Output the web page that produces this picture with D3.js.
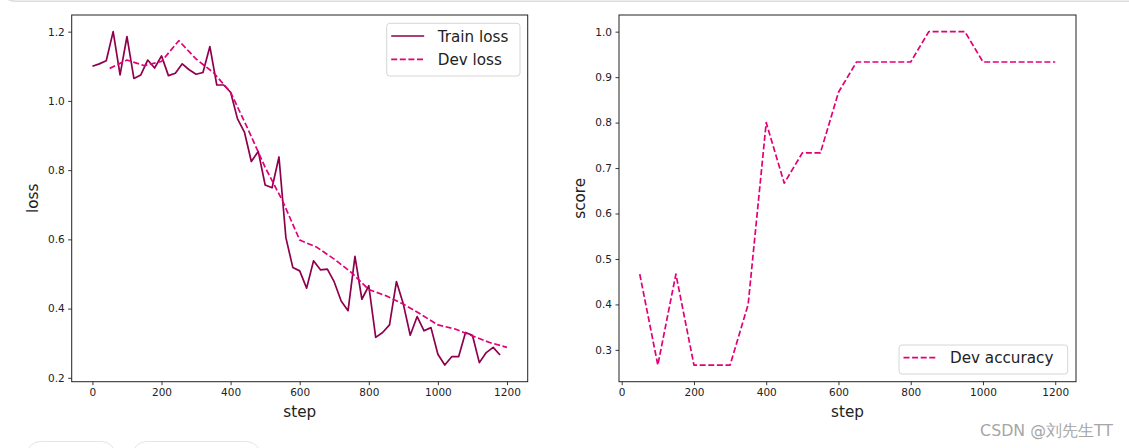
<!DOCTYPE html>
<html>
<head>
<meta charset="utf-8">
<script src="https://cdn.jsdelivr.net/npm/d3@7"></script>
<style>
  html, body { margin: 0; padding: 0; background: #fff; }
  svg { display: block; }
  text { font-family: "DejaVu Sans", sans-serif; }
</style>
</head>
<body>
<svg id="chart" width="1129" height="448"></svg>
<script>
// ---- data ----
const trainSteps = [0,20,40,60,80,100,120,140,160,180,200,220,240,260,280,300,320,340,360,380,
  400,420,440,460,480,500,520,540,560,580,600,620,640,660,680,700,720,740,760,780,
  800,820,840,860,880,900,920,940,960,980,1000,1020,1040,1060,1080,1100,1120,1140,1160,1180];
const trainLoss = [1.100,1.107,1.116,1.200,1.075,1.186,1.065,1.075,1.118,1.095,
  1.130,1.073,1.080,1.107,1.090,1.077,1.082,1.157,1.046,1.046,
  1.025,0.948,0.910,0.825,0.854,0.757,0.749,0.838,0.605,0.519,
  0.509,0.459,0.538,0.512,0.514,0.477,0.422,0.394,0.551,0.427,
  0.466,0.317,0.331,0.353,0.478,0.413,0.323,0.377,0.336,0.345,
  0.268,0.237,0.261,0.261,0.331,0.323,0.244,0.273,0.288,0.266];
const devSteps = [50,100,150,200,250,300,350,400,450,500,550,600,
  650,700,750,800,850,900,950,1000,1050,1100,1150,1200];
const devLoss = [1.094,1.118,1.102,1.114,1.174,1.121,1.082,1.025,0.919,0.808,0.712,0.598,
  0.577,0.543,0.504,0.455,0.437,0.413,0.384,0.353,0.341,0.321,0.302,0.288];
const devAcc = [0.4667,0.2667,0.4667,0.2667,0.2667,0.2667,0.4,0.8,0.6667,0.7333,0.7333,0.8667,
  0.9333,0.9333,0.9333,0.9333,1.0,1.0,1.0,0.9333,0.9333,0.9333,0.9333,0.9333];
const xTicks = [0,200,400,600,800,1000,1200];
const lossTicks = [0.2,0.4,0.6,0.8,1.0,1.2];
const accTicks = [0.3,0.4,0.5,0.6,0.7,0.8,0.9,1.0];
const trainColor = "#8E004D";
const devColor = "#E20079";

// ---- helpers ----
const svg = d3.select("#chart");
function padded(ext){ const r = ext[1]-ext[0]; return [ext[0]-0.05*r, ext[1]+0.05*r]; }
const DASH = "6,2.6";

// page decorations
svg.append("path")
  .attr("d","M4,-6 Q6,1 16,1.2 L1129,1.2")
  .attr("fill","none").attr("stroke","#dcdcdc").attr("stroke-width",1.6);
svg.append("rect").attr("x",26.5).attr("y",441.5).attr("width",89).attr("height",30).attr("rx",14)
  .attr("fill","#fff").attr("stroke","#e3e5ea");
svg.append("rect").attr("x",132.5).attr("y",441.5).attr("width",128).attr("height",30).attr("rx",14)
  .attr("fill","#fff").attr("stroke","#e3e5ea");

function panel(opts){
  const {x0,x1,y0,y1,xDomain,yDomain,yTicks,yFmt,ylabel,ylabelX,series,legend} = opts;
  const x = d3.scaleLinear().domain(xDomain).range([x0,x1]);
  const y = d3.scaleLinear().domain(yDomain).range([y1,y0]);
  const g = svg.append("g");

  // x axis
  const xa = g.append("g").attr("transform",`translate(0,${y1})`)
    .call(d3.axisBottom(x).tickValues(xTicks).tickFormat(d3.format("d")).tickSize(3.5).tickPadding(3.5));
  xa.select(".domain").remove();
  xa.selectAll("line").attr("stroke","#222").attr("stroke-width",0.9);
  xa.selectAll("text").attr("font-size","10.5px").attr("fill","#222").attr("font-family","DejaVu Sans");
  // y axis
  const ya = g.append("g").attr("transform",`translate(${x0},0)`)
    .call(d3.axisLeft(y).tickValues(yTicks).tickFormat(yFmt).tickSize(3.5).tickPadding(3.5));
  ya.select(".domain").remove();
  ya.selectAll("line").attr("stroke","#222").attr("stroke-width",0.9);
  ya.selectAll("text").attr("font-size","10.5px").attr("fill","#222").attr("font-family","DejaVu Sans");

  // series
  series.forEach(s=>{
    const pts = s.xs.map((v,i)=>[v,s.ys[i]]);
    g.append("path").datum(pts)
      .attr("d", d3.line().x(d=>x(d[0])).y(d=>y(d[1])))
      .attr("fill","none").attr("stroke",s.color).attr("stroke-width",1.7)
      .attr("stroke-dasharray", s.dash ? DASH : null)
      .attr("stroke-linejoin","round");
  });

  // frame
  g.append("rect").attr("x",x0).attr("y",y0).attr("width",x1-x0).attr("height",y1-y0)
    .attr("fill","none").attr("stroke","#222").attr("stroke-width",1);

  // labels
  g.append("text").attr("x",(x0+x1)/2).attr("y",y1+35).attr("text-anchor","middle")
    .attr("font-size","15.2px").attr("fill","#222").text("step");
  g.append("text").attr("transform",`translate(${ylabelX},${(y0+y1)/2}) rotate(-90)`)
    .attr("text-anchor","middle").attr("font-size","15.2px").attr("fill","#222").text(ylabel);

  // legend
  const L = legend;
  g.append("rect").attr("x",L.x).attr("y",L.y).attr("width",L.w).attr("height",L.h).attr("rx",3)
    .attr("fill","#fff").attr("fill-opacity",0.8).attr("stroke","#d6d6d6").attr("stroke-width",1);
  L.items.forEach((it,i)=>{
    const cy = L.y + 12.7 + i*23.3;
    g.append("line").attr("x1",L.x+4.5).attr("x2",L.x+37.5).attr("y1",cy).attr("y2",cy)
      .attr("stroke",it.color).attr("stroke-width",1.7).attr("stroke-dasharray",it.dash?DASH:null);
    g.append("text").attr("x",L.x+51).attr("y",cy+5.5).attr("font-size","15.2px").attr("fill","#222").text(it.label);
  });
}

const lossExt = d3.extent(trainLoss.concat(devLoss));
panel({
  x0:71.7, x1:527.7, y0:15, y1:381.7,
  xDomain: padded([0,1200]), yDomain: padded(lossExt),
  yTicks: lossTicks, yFmt: d3.format(".1f"), ylabel:"loss", ylabelX:38,
  series:[{xs:trainSteps, ys:trainLoss, color:trainColor, dash:false},
          {xs:devSteps, ys:devLoss, color:devColor, dash:true}],
  legend:{x:386.7, y:23.3, w:133.3, h:52.7,
    items:[{label:"Train loss", color:trainColor, dash:false},{label:"Dev loss", color:devColor, dash:true}]}
});

panel({
  x0:619, x1:1076, y0:15, y1:381.7,
  xDomain: padded(d3.extent(devSteps)), yDomain: padded(d3.extent(devAcc)),
  yTicks: accTicks, yFmt: d3.format(".1f"), ylabel:"score", ylabelX:585,
  series:[{xs:devSteps, ys:devAcc, color:devColor, dash:true}],
  legend:{x:899, y:345, w:168.7, h:29,
    items:[{label:"Dev accuracy", color:devColor, dash:true}]}
});

// watermark
svg.append("text").attr("x",1113).attr("y",436).attr("text-anchor","end")
  .attr("font-family","'Noto Sans CJK SC', sans-serif").attr("font-size","15.8px")
  .attr("fill","#a6a6a6").text("CSDN @刘先生TT");
</script>
</body>
</html>
